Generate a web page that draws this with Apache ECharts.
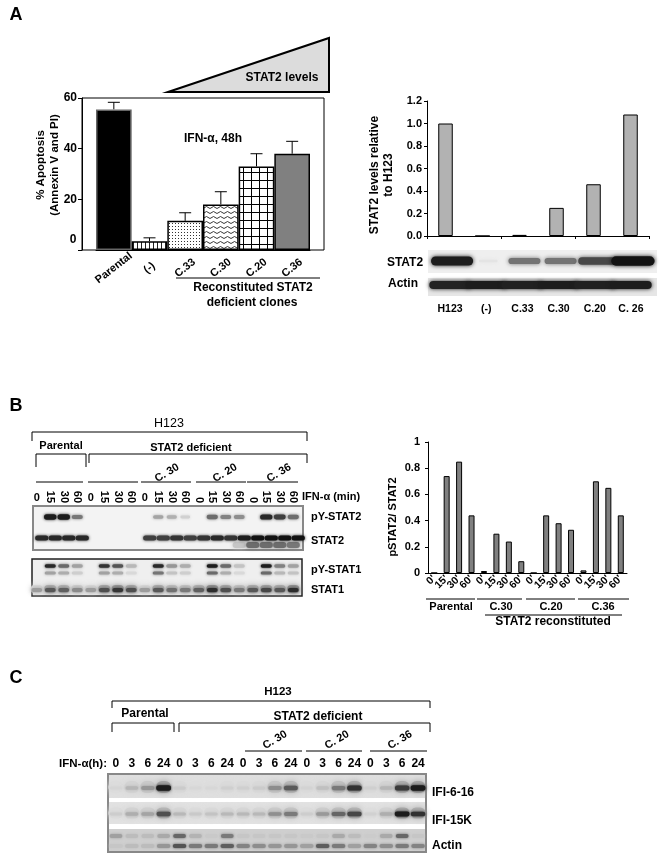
<!DOCTYPE html>
<html><head><meta charset="utf-8">
<style>html,body{margin:0;padding:0;background:#fff}#c{width:666px;height:862px}</style>
<script src="https://cdn.jsdelivr.net/npm/echarts@6/dist/echarts.min.js"></script>
</head><body><div id="c"></div>
<script>
// ---- data ----
const apoptosisLabels = ['Parental','(-)','C.33','C.30','C.20','C.36'];
const apoptosisValues = [55.5,3.5,11.5,18,33,38];
const apoptosisUpper  = [58.3,4.8,14.7,23,38,42.9];
const levelLabels = ['H123','(-)','C.33','C.30','C.20','C. 26'];
const levelValues = [1.0,0,0.01,0.25,0.46,1.08];
const ratioLabels = ["0'","15'","30'","60'","0'","15'","30'","60'","0'","15'","30'","60'","0'","15'","30'","60'"];
const ratioValues = [0,0.74,0.85,0.44,0.015,0.3,0.24,0.09,0,0.44,0.38,0.33,0.02,0.7,0.65,0.44];
const stat2Band = [0.95,0.03,0.55,0.55,0.75,1];
const actinBand = [0.92,0.95,0.93,0.95,0.93,0.95];
const minuteLabels = ['0','15','30','60','0','15','30','60','0','15','30','60','0','15','30','60','0','15','30','60'];
const pYStat2 = [0,0.95,0.95,0.55,0,0,0,0,0,0.35,0.3,0.15,0,0.6,0.5,0.45,0,0.9,0.8,0.6];
const stat2Main = [0.9,0.9,0.9,0.9,0,0,0,0,0.8,0.8,0.85,0.8,0.85,0.9,0.85,0.95,1,1,1,1];
const stat2Lower = [0,0,0,0,0,0,0,0,0,0,0,0,0,0,0,0.2,0.6,0.6,0.6,0.55];
const pYStat1Up = [0,0.9,0.6,0.35,0,0.85,0.7,0.25,0,0.9,0.4,0.3,0,0.95,0.6,0.2,0,0.95,0.5,0.35];
const pYStat1Low = [0,0.35,0.3,0.15,0,0.35,0.3,0.1,0,0.55,0.2,0.15,0,0.6,0.3,0.1,0,0.6,0.25,0.2];
const stat1Band = [0.2,0.6,0.55,0.3,0.2,0.65,0.8,0.65,0.2,0.6,0.45,0.4,0.55,0.85,0.65,0.4,0.6,0.7,0.6,0.85];
const hourLabels = ['0','3','6','24','0','3','6','24','0','3','6','24','0','3','6','24','0','3','6','24'];
const ifi616 = [0.05,0.2,0.35,0.95,0.1,0.04,0.04,0.08,0.08,0.1,0.4,0.65,0.06,0.15,0.5,0.85,0.08,0.2,0.8,0.95];
const ifi15k = [0.1,0.25,0.3,0.7,0.2,0.12,0.15,0.2,0.2,0.2,0.4,0.5,0.1,0.35,0.6,0.75,0.08,0.25,0.95,0.85];
const actinCUp = [0.25,0.1,0.1,0.2,0.55,0.15,0.03,0.45,0.05,0.05,0.05,0.05,0.03,0.05,0.2,0.1,0.02,0.2,0.55,0.05];
const actinCLow = [0.05,0.1,0.1,0.3,0.65,0.45,0.45,0.6,0.4,0.35,0.3,0.3,0.25,0.6,0.45,0.25,0.4,0.35,0.45,0.4];

// ---- helpers ----
const FF = '"Liberation Sans", Arial, sans-serif';
const gfx = [];
function txt(s,x,y,o){o=o||{};gfx.push({type:'text',x:x,y:y,rotation:(o.rot||0)*Math.PI/180,z:20,
  style:{text:s,x:0,y:0,fill:o.color||'#000',font:(o.weight||'bold')+' '+(o.size||11)+'px '+FF,textAlign:o.align||'center',textVerticalAlign:'middle'}});}
function line(pts,w,c){gfx.push({type:'polyline',z:20,shape:{points:pts},style:{stroke:c||'#000',lineWidth:w||1,fill:null}});}
function frame(x,y,w,h,fill,stroke,lw){gfx.push({type:'rect',z:0,shape:{x:x,y:y,width:w,height:h},style:{fill:fill,stroke:stroke||null,lineWidth:lw||0}});}
function pattern(w,h,draw){const c=document.createElement('canvas');c.width=w;c.height=h;const g=c.getContext('2d');g.fillStyle='#fff';g.fillRect(0,0,w,h);g.fillStyle='#000';g.strokeStyle='#000';draw(g);return {image:c,repeat:'repeat'};}

const grids=[],xAxes=[],yAxes=[],series=[];
const axisFont={color:'#000',fontWeight:'bold',fontSize:11,fontFamily:FF};
const blackLine={show:true,lineStyle:{color:'#000',width:1}};

// ---- blot builder: every band comes from an intensity array through category/value scales ----
function blot(rect,lanes,bands,axisCfgs){
  const gi=grids.length;
  grids.push({left:rect.x,top:rect.y,width:rect.w,height:rect.h,show:false});
  const first=xAxes.length;
  (axisCfgs||[{show:false}]).forEach(a=>xAxes.push(Object.assign({type:'category',gridIndex:gi,data:lanes,axisLine:{show:false},axisTick:{show:false}},a)));
  yAxes.push({type:'value',gridIndex:gi,min:0,max:1,inverse:true,show:false});
  const yi=yAxes.length-1;
  bands.forEach(b=>{
    const row=(b.py-rect.y)/rect.h;
    series.push({type:'custom',xAxisIndex:first,yAxisIndex:yi,z:b.z||3,silent:true,clip:false,
      data:b.vals.map((v,i)=>[i,row,v]),
      renderItem:(p,api)=>{
        const raw=api.value(2); if(raw<=0) return null;
        const v=raw*(b.k||1);
        const c=api.coord([api.value(0),api.value(1)]);
        const lw=api.size([1,0])[0];
        const w=lw*(b.w||1)*(b.grow?(b.gw0+b.gw1*v):1);
        const h=b.h*(b.grow?(b.gh0+b.gh1*v):1);
        const bg=b.bg||235;
        const lev=Math.round(bg*(1-v)+18*v);
        const col='rgb('+lev+','+lev+','+lev+')';
        return {type:'rect',shape:{x:c[0]-w/2+(b.dx||0),y:c[1]-h/2,width:w,height:h,r:h/2},
          style:{fill:col,shadowBlur:b.blur||3,shadowColor:col}};
      }});
  });
}

// ---- Panel A left ----
const apFills=['#000',
  pattern(4,4,g=>{g.fillStyle='#222';g.fillRect(1,0,1,4);}),
  pattern(3,3,g=>{g.fillStyle='#333';g.fillRect(1,1,1,1);}),
  pattern(7,5,g=>{g.lineWidth=0.9;g.strokeStyle='#222';g.beginPath();g.moveTo(0,3.5);g.lineTo(3.5,1.5);g.lineTo(7,3.5);g.stroke();}),
  pattern(8,8,g=>{g.fillRect(3,0,1,8);g.fillRect(0,4,8,1);}),
  '#808080'];
frame(82,98,242,152,'#fff','#000',1);
grids.push({left:96,top:98,width:214,height:152,show:false});
xAxes.push({type:'category',gridIndex:0,data:apoptosisLabels,axisLine:blackLine,axisTick:{show:false},
  axisLabel:Object.assign({},axisFont,{rotate:38,align:'center',verticalAlign:'middle',margin:18,interval:0})});
yAxes.push({type:'value',gridIndex:0,min:0,max:60,interval:20,offset:14,axisLine:blackLine,splitLine:{show:false},
  axisTick:{show:true,length:4,lineStyle:{color:'#000'}},
  axisLabel:Object.assign({},axisFont,{fontSize:12,margin:5,formatter:v=>v===0?'':String(v)})});
series.push({type:'bar',xAxisIndex:0,yAxisIndex:0,z:4,barWidth:'100%',silent:true,
  data:apoptosisValues.map((v,i)=>({value:v,itemStyle:{color:apFills[i],borderColor:i===0?'#666':'#000',borderWidth:1.5}}))});
series.push({type:'custom',xAxisIndex:0,yAxisIndex:0,z:3,silent:true,
  data:apoptosisValues.map((v,i)=>[i,v,apoptosisUpper[i]]),encode:{x:0,y:[1,2]},
  renderItem:(p,api)=>{
    const a=api.coord([api.value(0),api.value(1)]),b=api.coord([api.value(0),api.value(2)]);
    const st={stroke:'#000',lineWidth:1};
    return {type:'group',children:[
      {type:'line',shape:{x1:a[0],y1:a[1],x2:b[0],y2:b[1]},style:st},
      {type:'line',shape:{x1:b[0]-6,y1:b[1],x2:b[0]+6,y2:b[1]},style:st}]};
  }});
txt('A',16,15,{size:18});
gfx.push({type:'polygon',z:20,shape:{points:[[168,92],[329,38],[329,92]]},style:{fill:'#dcdcdc',stroke:'#000',lineWidth:2}});
txt('STAT2 levels',282,78,{size:12});
txt('0',73,240,{size:12});
txt('% Apoptosis',41,165,{rot:90,size:11.5});
txt('(Annexin V and PI)',55,165,{rot:90,size:11.5});
txt('IFN-α, 48h',184,139,{align:'left',size:12});
line([[176,278],[320,278]]);
txt('Reconstituted STAT2',253,288,{size:12});
txt('deficient clones',252,303,{size:12});

// ---- Panel A right ----
grids.push({left:427,top:101,width:222,height:135,show:false});
xAxes.push({type:'category',gridIndex:1,data:levelLabels,axisLine:blackLine,axisLabel:{show:false},axisTick:{show:true,length:3,lineStyle:{color:'#000'}}});
yAxes.push({type:'value',gridIndex:1,min:0,max:1.2,interval:0.2,axisLine:blackLine,splitLine:{show:false},
  axisTick:{show:true,length:3,lineStyle:{color:'#000'}},axisLabel:Object.assign({},axisFont,{margin:5,formatter:v=>v.toFixed(1)})});
series.push({type:'bar',xAxisIndex:1,yAxisIndex:1,barWidth:14.5,silent:true,z:4,data:levelValues,itemStyle:{color:'#b2b2b2',borderColor:'#000',borderWidth:1}});
txt('STAT2 levels relative',375,175,{rot:90,size:12});
txt('to H123',389,175,{rot:90,size:12});
frame(428,250,229,23,'#efefef');
frame(428,278,229,18,'#e6e6e6');
blot({x:432,y:250,w:217,h:46},levelLabels,[
  {vals:stat2Band,py:261,h:9,grow:true,gw0:0.5,gw1:0.7,gh0:0.25,gh1:0.8,blur:4,dx:2},
  {vals:actinBand,py:285,h:8,w:1.15,blur:4}
],[{show:true,position:'bottom',axisLabel:Object.assign({},axisFont,{fontSize:10.5,margin:8,interval:0})}]);
txt('STAT2',405,263,{size:12});
txt('Actin',403,284,{size:12});

// ---- Panel B right ----
grids.push({left:428,top:442,width:199,height:131,show:false});
xAxes.push({type:'category',gridIndex:yAxes.length,data:ratioLabels,axisLine:blackLine,axisTick:{show:false},
  axisLabel:Object.assign({},axisFont,{rotate:45,margin:4,fontSize:10.5,interval:0})});
yAxes.push({type:'value',gridIndex:grids.length-1,min:0,max:1,interval:0.2,axisLine:blackLine,splitLine:{show:false},
  axisTick:{show:true,length:3,lineStyle:{color:'#000'}},axisLabel:Object.assign({},axisFont,{margin:8})});
series.push({type:'bar',xAxisIndex:xAxes.length-1,yAxisIndex:yAxes.length-1,barWidth:6,silent:true,z:4,data:ratioValues,itemStyle:{color:'#808080',borderColor:'#000',borderWidth:1}});
txt('pSTAT2/ STAT2',393,517,{rot:90});
line([[426,599],[475,599]]);line([[477,599],[522,599]]);line([[526,599],[575,599]]);line([[578,599],[629,599]]);
txt('Parental',451,607);txt('C.30',501,607);txt('C.20',551,607);txt('C.36',603,607);
line([[485,615],[622,615]]);
txt('STAT2 reconstituted',553,622,{size:12});

// ---- Panel B blots ----
txt('B',16,406,{size:18});
txt('H123',169,424,{weight:'normal',size:12.5});
line([[32,441],[32,432],[307,432],[307,441]]);
txt('Parental',61,446);txt('STAT2 deficient',191,448);
line([[36,467],[36,454],[86,454],[86,467]]);
line([[89,463],[89,454],[307,454],[307,463]]);
[[36,83],[88,138],[141,191],[196,246],[247,298]].forEach(s=>line([[s[0],482],[s[1],482]]));
txt('C. 30',167,473,{rot:30});txt('C. 20',225,473,{rot:30});txt('C. 36',279,473,{rot:30});
txt('IFN-α (min)',302,497,{align:'left'});
frame(33,506,270,44,'#f3f3f3','#888',2);
frame(32,559,270,37,'#efefef','#222',1.5);
const upright=[0,4,8];
blot({x:30,y:506,w:270,h:44},minuteLabels,[
  {vals:pYStat2,py:517,h:5,w:0.85,grow:true,gw0:0.8,gw1:0.3,gh0:0.5,gh1:0.6,blur:3,bg:243},
  {vals:stat2Lower,py:545,h:6,w:0.98,blur:4,bg:243},
  {vals:stat2Main,py:538,h:5,w:0.98,blur:3,dx:5,bg:243}
],[
  {position:'top',axisLabel:Object.assign({},axisFont,{margin:3,rotate:0,interval:i=>upright.includes(i)})},
  {position:'top',axisLabel:Object.assign({},axisFont,{margin:3,rotate:90,interval:i=>!upright.includes(i)})}
]);
blot({x:30,y:559,w:270,h:37},minuteLabels,[
  {vals:stat1Band,py:589,h:8,k:0.45,w:0.9,blur:6,z:2,bg:239},
  {vals:pYStat1Up,py:566,h:3.5,w:0.82,blur:3,bg:239},
  {vals:pYStat1Low,py:573,h:3,w:0.82,blur:3,bg:239},
  {vals:stat1Band,py:590,h:4,w:0.8,blur:4,bg:190}
]);
txt('pY-STAT2',311,517,{align:'left'});txt('STAT2',311,541,{align:'left'});
txt('pY-STAT1',311,570,{align:'left'});txt('STAT1',311,590,{align:'left'});

// ---- Panel C ----
txt('C',16,678,{size:18});
txt('H123',278,692,{size:11.5});
line([[112,708],[112,701],[430,701],[430,708]]);
txt('Parental',145,714,{size:12});txt('STAT2 deficient',318,717,{size:12});
line([[112,732],[112,723],[174,723],[174,732]]);
line([[179,732],[179,723],[430,723],[430,732]]);
[[245,302],[306,362],[370,427]].forEach(s=>line([[s[0],751],[s[1],751]]));
txt('C. 30',275,740,{rot:30});txt('C. 20',337,740,{rot:30});txt('C. 36',400,740,{rot:30});
txt('IFN-α(h):',107,764,{align:'right',size:11.5});
frame(108,774,318,78,'#fff','#888',2);
frame(109,775,316,23,'#dfdfdf');
frame(109,802,316,22,'#e2e2e2');
frame(109,829,316,22,'#cfcfcf');
blot({x:108,y:774,w:318,h:78},hourLabels,[
  {vals:ifi616,py:787,h:12,k:0.3,w:0.95,blur:6,z:2,bg:223},
  {vals:ifi15k,py:813,h:11,k:0.3,w:0.95,blur:6,z:2,bg:226},
  {vals:ifi616,py:788,h:5,w:0.9,grow:true,gw0:0.85,gw1:0.2,gh0:0.6,gh1:0.5,blur:3,bg:223},
  {vals:ifi15k,py:814,h:4.5,w:0.9,grow:true,gw0:0.85,gw1:0.2,gh0:0.6,gh1:0.5,blur:3,bg:226},
  {vals:actinCUp,py:836,h:4,w:0.8,blur:3,bg:207},
  {vals:actinCLow,py:846,h:4,w:0.85,blur:3,bg:207}
],[{position:'top',axisLabel:Object.assign({},axisFont,{fontSize:12,margin:4,interval:0})}]);
txt('IFI-6-16',432,793,{align:'left',size:12});
txt('IFI-15K',432,821,{align:'left',size:12});
txt('Actin',432,846,{align:'left',size:12});

const chart=echarts.init(document.getElementById('c'),null,{renderer:'canvas'});
chart.setOption({animation:false,backgroundColor:'#fff',textStyle:{fontFamily:FF},tooltip:{show:false},
  grid:grids,xAxis:xAxes,yAxis:yAxes,series:series,graphic:{elements:gfx}});
</script></body></html>
